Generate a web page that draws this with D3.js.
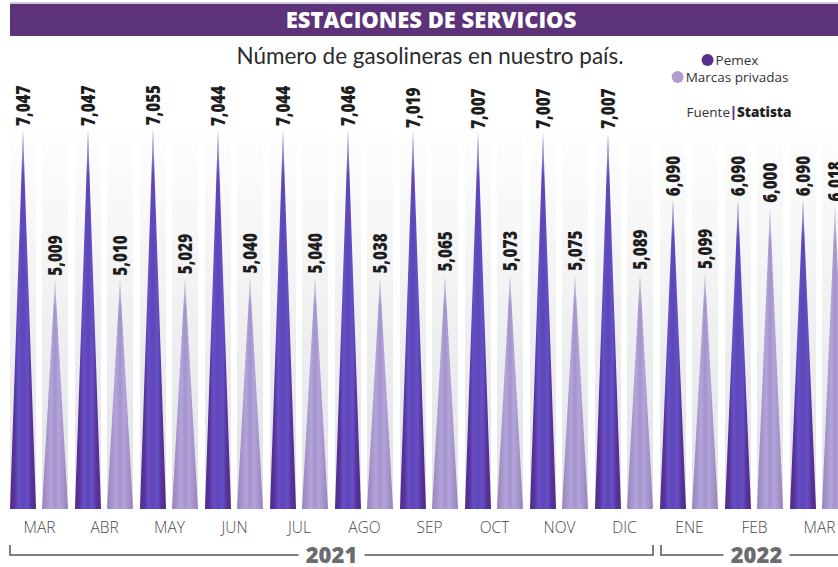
<!DOCTYPE html>
<html>
<head>
<meta charset="utf-8">
<script src="https://cdn.jsdelivr.net/npm/d3@7"></script>
<style>
  body { margin: 0; background: #fff; }
  svg { display: block; font-family: "Open Sans", sans-serif; }
</style>
</head>
<body>
<svg id="chart" width="838" height="567"></svg>
<script>
// data
const months = ["MAR", "ABR", "MAY", "JUN", "JUL", "AGO", "SEP", "OCT", "NOV", "DIC", "ENE", "FEB", "MAR"];
const pemex = [7047, 7047, 7055, 7044, 7044, 7046, 7019, 7007, 7007, 7007, 6090, 6090, 6090];
const marcas = [5009, 5010, 5029, 5040, 5040, 5038, 5065, 5073, 5075, 5089, 5099, 6000, 6018];
const series = ["Pemex", "Marcas privadas"];
const years = [
    {label: "2021", from: 0, to: 9},
    {label: "2022", from: 10, to: 12}
];

let svg = d3.select("#chart"),
    width = +svg.attr("width");

let defs = svg.append("defs");

// background band: white at top, light grey at the bottom
let bg = defs.append("linearGradient").attr("id", "bandGrad")
    .attr("x1", 0).attr("x2", 0).attr("y1", 0).attr("y2", 1);
bg.append("stop").attr("offset", 0).attr("stop-color", "#fefefe");
bg.append("stop").attr("offset", 1).attr("stop-color", "#e1e2e4");

// cone shading for the spikes
function coneGradient(id, stops) {
    let g = defs.append("linearGradient").attr("id", id)
        .attr("x1", 0).attr("x2", 1).attr("y1", 0).attr("y2", 0);
    stops.forEach(s => g.append("stop").attr("offset", s[0]).attr("stop-color", s[1]));
}
coneGradient("gradPemex", [[0, "#4f2a88"], [0.18, "#5a339d"], [0.32, "#6650c6"], [0.5, "#5e45b8"], [0.68, "#6650c6"], [0.82, "#5a339d"], [1, "#4f2a88"]]);
coneGradient("gradMarcas", [[0, "#9883bb"], [0.2, "#a896cf"], [0.35, "#b3a4da"], [0.5, "#a593cc"], [0.65, "#b3a4da"], [0.8, "#a896cf"], [1, "#9883bb"]]);

// light fade near the tip
let tipFade = defs.append("linearGradient").attr("id", "tipFade")
    .attr("x1", 0).attr("x2", 0).attr("y1", 0).attr("y2", 1);
tipFade.append("stop").attr("offset", 0).attr("stop-color", "#fff").attr("stop-opacity", 0.7);
tipFade.append("stop").attr("offset", 0.12).attr("stop-color", "#fff").attr("stop-opacity", 0);
tipFade.append("stop").attr("offset", 1).attr("stop-color", "#fff").attr("stop-opacity", 0);

// scales
let x0 = d3.scaleBand()
    .domain(d3.range(months.length))
    .range([7, 7 + 65 * months.length]);

let x1 = d3.scaleBand()
    .domain(series)
    .range([3, 61])
    .paddingInner(0.1875);

let y = d3.scaleLinear()
    .domain([1890, 7100])
    .range([509, 126]);

const bandTop = 128;

// title bar
svg.append("rect")
    .attr("x", 10).attr("y", 2.5).attr("width", width - 10).attr("height", 1)
    .attr("fill", "#a58fbf");
svg.append("rect")
    .attr("x", 10).attr("y", 4).attr("width", width - 10).attr("height", 32)
    .attr("fill", "#5c3279");
svg.append("text")
    .attr("x", 431).attr("y", 28)
    .attr("text-anchor", "middle")
    .attr("fill", "#fff")
    .style("font-size", "22px").style("font-weight", 800)
    .text("ESTACIONES DE SERVICIOS");

svg.append("text")
    .attr("x", 430).attr("y", 64)
    .attr("text-anchor", "middle")
    .attr("fill", "#2b2b2b")
    .style("font-family", "Lato, sans-serif")
    .style("font-size", "22.5px")
    .text("Número de gasolineras en nuestro país.");

// months x series
let rows = [];
months.forEach((m, i) => {
    rows.push({i: i, key: "Pemex", value: pemex[i]});
    rows.push({i: i, key: "Marcas privadas", value: marcas[i]});
});

let cell = svg.append("g").selectAll("g")
    .data(rows)
    .join("g")
    .attr("transform", d => "translate(" + (x0(d.i) + x1(d.key)) + ",0)");

let bw = x1.bandwidth();

cell.append("rect")
    .attr("x", 0).attr("y", bandTop)
    .attr("width", bw).attr("height", y.range()[0] - bandTop)
    .attr("fill", "url(#bandGrad)");

cell.append("path")
    .attr("d", d => `M0,${y.range()[0]} L${bw / 2},${y(d.value)} L${bw},${y.range()[0]} Z`)
    .attr("fill", d => d.key === "Pemex" ? "url(#gradPemex)" : "url(#gradMarcas)");

cell.append("path")
    .attr("d", d => `M0,${y.range()[0]} L${bw / 2},${y(d.value)} L${bw},${y.range()[0]} Z`)
    .attr("fill", "url(#tipFade)");

// condensed bold value labels
cell.append("text")
    .attr("transform", d => `translate(${bw / 2},${y(d.value) - 4}) rotate(-90) scale(0.8,1)`)
    .attr("dy", "0.36em")
    .attr("fill", "#1e1e1e")
    .style("font-size", "19px").style("font-weight", 800)
    .text(d => d3.format(",")(d.value));

// month labels
svg.append("g").selectAll("text")
    .data(months)
    .join("text")
    .attr("x", (d, i) => x0(i) + x0.bandwidth() / 2)
    .attr("y", 533)
    .attr("text-anchor", "middle")
    .attr("fill", "#4a4a4a")
    .style("font-size", "15.5px").style("font-weight", 300)
    .text(d => d);

// year brackets
let lineY = 555;
let yr = svg.append("g").selectAll("g")
    .data(years)
    .join("g");

let bx0 = d => x0(d.from) + (d.from === 0 ? 3 : 4);
let bx1 = d => d.to === months.length - 1 ? x0(d.to) + x0.step() : x0(d.to) + x0.step() - 4;

yr.append("line")
    .attr("x1", bx0).attr("x2", bx1)
    .attr("y1", lineY).attr("y2", lineY)
    .attr("stroke", "#555").attr("stroke-width", 1.5);

yr.append("line")
    .attr("x1", bx0).attr("x2", bx0)
    .attr("y1", lineY + 0.75).attr("y2", lineY - 10)
    .attr("stroke", "#555").attr("stroke-width", 1.5);

yr.filter(d => d.to < months.length - 1).append("line")
    .attr("x1", bx1).attr("x2", bx1)
    .attr("y1", lineY + 0.75).attr("y2", lineY - 10)
    .attr("stroke", "#555").attr("stroke-width", 1.5);

yr.append("rect")
    .attr("x", d => (bx0(d) + bx1(d)) / 2 - 33)
    .attr("y", lineY - 11).attr("width", 66).attr("height", 22)
    .attr("fill", "#fff");

yr.append("text")
    .attr("x", d => (bx0(d) + bx1(d)) / 2)
    .attr("y", lineY + 8)
    .attr("text-anchor", "middle")
    .attr("fill", "#6b6c6f")
    .style("font-size", "22px").style("font-weight", 800)
    .text(d => d.label);

// legend
let legend = svg.append("g");
let legendColors = ["#5b2d8c", "#b09dcf"];
let legendRows = legend.selectAll("g")
    .data(series)
    .join("g")
    .attr("transform", (d, i) => `translate(732,${60 + i * 17})`);

legendRows.append("text")
    .attr("x", 5)
    .attr("dy", "0.35em")
    .attr("text-anchor", "middle")
    .attr("fill", "#333")
    .style("font-size", "13.5px")
    .text(d => d)
    .each(function (d, i) {
        let w = this.getComputedTextLength();
        d3.select(this.parentNode).append("circle")
            .attr("cx", 5 - w / 2 - 8).attr("cy", 0).attr("r", 6)
            .attr("fill", legendColors[i]);
    });

let src = svg.append("text")
    .attr("x", 739).attr("y", 117)
    .attr("text-anchor", "middle")
    .style("font-size", "13.5px")
    .attr("fill", "#333");
src.append("tspan").text("Fuente");
src.append("tspan").attr("fill", "#6a2d9a").style("font-weight", 800).text("|");
src.append("tspan").style("font-weight", 800).attr("fill", "#222").text("Statista");
</script>
</body>
</html>
